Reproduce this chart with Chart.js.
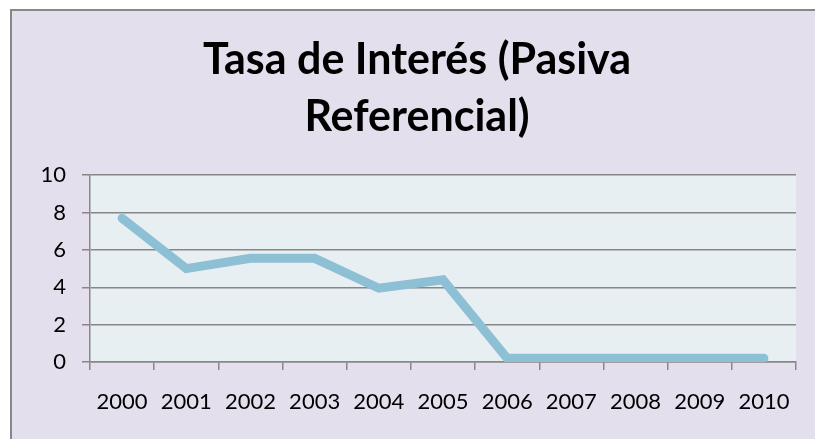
<!DOCTYPE html>
<html>
<head>
<meta charset="utf-8">
<script src="https://cdn.jsdelivr.net/npm/chart.js@4.4.1/dist/chart.umd.min.js"></script>
<style>
  html, body { margin: 0; padding: 0; background: #ffffff; overflow: hidden; }
  #frame {
    position: absolute; left: 10px; top: 9px;
    width: 810px; height: 435px; overflow: hidden;
    border-left: 2px solid #878787; border-top: 2px solid #878787;
    background: #e4dfec;
  }
  #frame canvas { display: block; }
</style>
</head>
<body>
<div id="frame"><canvas id="myLineChart" width="803" height="428"></canvas></div>
<script>
// Données du graphique
const years = ["2000", "2001", "2002", "2003", "2004", "2005", "2006", "2007", "2008", "2009", "2010"];
const tasaPasiva = [7.7, 5.0, 5.55, 5.55, 3.95, 4.4, 0.2, 0.2, 0.2, 0.2, 0.2];
const titleLines = ["Tasa de Interés (Pasiva", "Referencial)"];

document.addEventListener("DOMContentLoaded", function () {
  // fond de la zone du graphique
  const plotBackground = {
    id: "plotBackground",
    beforeDraw(chart) {
      const { ctx, chartArea } = chart;
      ctx.save();
      ctx.fillStyle = "#e8eff3";
      ctx.fillRect(chartArea.left, chartArea.top, chartArea.right - chartArea.left, chartArea.bottom - chartArea.top);
      ctx.restore();
    },
  };

  // titre un peu décalé vers la droite (comme l'original)
  const shiftTitle = {
    id: "shiftTitle",
    afterLayout(chart) {
      if (chart.titleBlock) chart.titleBlock.left += 26;
    },
  };

  const ctx = document.getElementById("myLineChart").getContext("2d");
  new Chart(ctx, {
    type: "line",
    data: {
      labels: years,
      datasets: [
        {
          label: "Tasa Pasiva",
          data: tasaPasiva,
          borderColor: "#8dc0d4",
          borderWidth: 9,
          borderCapStyle: "round",
          borderJoinStyle: "miter",
          pointRadius: 0,
          tension: 0,
          fill: false,
        },
      ],
    },
    options: {
      responsive: false,
      animation: false,
      layout: { padding: { left: 0, right: 19, top: 0, bottom: 0 } },
      plugins: {
        legend: { display: false },
        tooltip: { enabled: false },
        title: {
          display: true,
          text: titleLines,
          color: "#000000",
          font: { family: "Lato", size: 43, weight: "bold", lineHeight: 1.34 },
          padding: { top: 20, bottom: 29 },
        },
      },
      scales: {
        x: {
          offset: true,
          grid: {
            offset: true,
            drawOnChartArea: false,
            drawTicks: true,
            tickLength: 8,
            color: "#878787",
            lineWidth: 1.5,
          },
          border: { color: "#878787", width: 1.5 },
          ticks: {
            color: "#000000",
            font: { family: "Lato", size: 22 },
            padding: 19,
            maxRotation: 0,
            autoSkip: false,
          },
          afterFit(scale) { scale.height = 77; },
        },
        y: {
          min: 0,
          max: 10,
          ticks: {
            stepSize: 2,
            color: "#000000",
            font: { family: "Lato", size: 22 },
            padding: 16,
          },
          grid: {
            drawTicks: true,
            tickLength: 8,
            color: "#878787",
            lineWidth: 1.5,
          },
          border: { color: "#878787", width: 1.5 },
          afterFit(scale) { scale.width = 78; },
        },
      },
    },
    plugins: [plotBackground, shiftTitle],
  });
});
</script>
</body>
</html>
